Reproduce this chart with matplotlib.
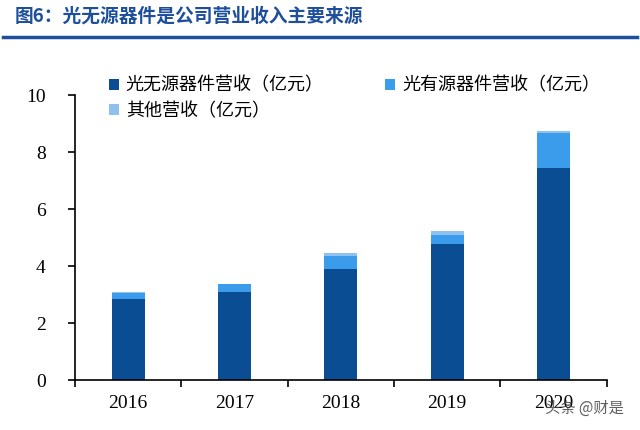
import matplotlib
matplotlib.use('Agg')
import matplotlib.pyplot as plt
import numpy as np

plt.rcParams['font.family'] = ['Noto Sans CJK SC', 'DejaVu Sans']

# data (亿元)
years = ['2016', '2017', '2018', '2019', '2020']
passive = [2.85, 3.09, 3.90, 4.76, 7.43]
active = [0.20, 0.27, 0.47, 0.34, 1.24]
other = [0.05, 0.00, 0.10, 0.12, 0.07]
labels = ['光无源器件营收（亿元）', '光有源器件营收（亿元）', '其他营收（亿元）']
colors = ['#0B4D92', '#3C9CEC', '#8FC0EE']

fig = plt.figure(figsize=(6.4, 4.3), dpi=100)
ax = fig.add_axes([0.117, 0.116, 0.831, 0.663])

x = np.arange(len(years))
w = 0.31
b1 = ax.bar(x, passive, w, color=colors[0], label=labels[0])
b2 = ax.bar(x, active, w, bottom=passive, color=colors[1], label=labels[1])
bottom2 = np.array(passive) + np.array(active)
b3 = ax.bar(x, other, w, bottom=bottom2, color=colors[2], label=labels[2])

ax.set_xlim(-0.5, len(years) - 0.5)
ax.set_ylim(0, 10)
ax.set_yticks([0, 2, 4, 6, 8, 10])
ax.set_xticks(x)
ax.set_xticklabels(years)
ax.set_xticks(np.arange(len(years) + 1) - 0.5, minor=True)
ax.tick_params(axis='x', which='major', length=0, pad=11)
ax.tick_params(axis='x', which='minor', length=5, width=1.2, direction='out')
ax.tick_params(axis='y', length=5, width=1.2, direction='out', pad=16)
for t in ax.get_xticklabels() + ax.get_yticklabels():
    t.set_family('Liberation Serif')
    t.set_fontsize(14)
ax.spines['top'].set_visible(False)
ax.spines['right'].set_visible(False)
ax.spines['left'].set_linewidth(1.2)
ax.spines['bottom'].set_linewidth(1.2)

# row-wise order: passive, active on row 1; other on row 2
ax.legend([b1, b3, b2], [labels[0], labels[2], labels[1]],
          loc='upper left', bbox_to_anchor=(0.05, 1.09), ncol=2, frameon=False,
          fontsize=13, handlelength=0.55, handleheight=0.55, handletextpad=0.4,
          columnspacing=3.4, labelspacing=0.4, borderaxespad=0)

# header
fig.text(0.023, 0.962, '图6：光无源器件是公司营业收入主要来源', fontsize=13.5,
         fontweight='bold', color='#1D4F9C', va='center')
fig.add_artist(plt.Line2D([0.005, 0.995], [0.914, 0.914], color='#1D4F9C', lw=2.5))

# watermark
fig.text(0.975, 0.03, '头条 @财是', fontsize=11, color='#444444', ha='right',
         va='bottom', alpha=0.85, zorder=5)

fig.savefig('out.png', dpi=100, facecolor='white')
